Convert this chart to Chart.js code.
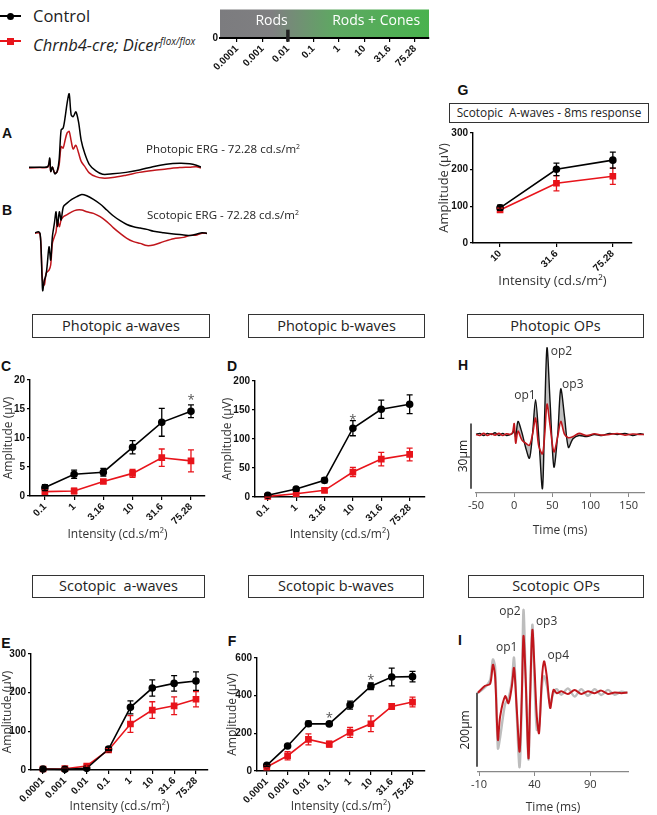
<!DOCTYPE html>
<html>
<head>
<meta charset="utf-8">
<script src="https://cdn.jsdelivr.net/npm/chart.js@4.4.1/dist/chart.umd.min.js"></script>
<style>
  body { margin: 0; width: 657px; height: 815px; position: relative; overflow: hidden; background: #fff;
         font-family: 'Open Sans', sans-serif; color: #222; }
  canvas, .abs { position: absolute; }
  .letter { position: absolute; width: 20px; text-align: center; font: bold 14px 'Liberation Sans', Arial, sans-serif;
            line-height: 16px; color: #111; }
  .ttl { position: absolute; box-sizing: border-box; border: 1.3px solid #333; text-align: center; font-size: 14.5px;
         white-space: nowrap; }
  .erg { position: absolute; font-size: 11.5px; line-height: 14px; white-space: nowrap; }
  .erg sup, .leg sup { font-size: 0.6em; vertical-align: 0.6em; }
  .leg { position: absolute; left: 33px; font-size: 16.5px; line-height: 20px; white-space: nowrap; }
</style>
</head>
<body>

<!-- legend -->
<div class="abs" style="left:0;top:15px;width:21px;height:2px;background:#000"></div>
<div class="abs" style="left:7px;top:12.5px;width:7px;height:7px;border-radius:50%;background:#000"></div>
<div class="leg" style="top:6px">Control</div>
<div class="abs" style="left:0;top:40px;width:21px;height:2px;background:#e8141b"></div>
<div class="abs" style="left:6.5px;top:37.5px;width:7px;height:7px;background:#e8141b"></div>
<div class="leg" style="top:31px;font-style:italic">Chrnb4-cre; Dicer<sup>flox/flox</sup></div>

<canvas id="cvScale" width="240" height="85" style="left:200px;top:0"></canvas>

<!-- A / B traces -->
<div class="letter" style="left:-3px;top:125px">A</div>
<div class="letter" style="left:-3px;top:202px">B</div>
<canvas id="cvA" width="172" height="100" style="left:29px;top:90px"></canvas>
<canvas id="cvB" width="172" height="105" style="left:35px;top:190px"></canvas>
<div class="erg" style="left:146px;top:140px">Photopic ERG - 72.28 cd.s/m<sup>2</sup></div>
<div class="erg" style="left:147px;top:206px">Scotopic ERG - 72.28 cd.s/m<sup>2</sup></div>

<!-- G -->
<div class="letter" style="left:453px;top:82px">G</div>
<div class="ttl" style="left:449px;top:103px;width:200px;height:20px;font-size:11.8px;line-height:17px">Scotopic&nbsp; A-waves - 8ms response</div>
<canvas id="cvG" width="232" height="165" style="left:425px;top:125px"></canvas>

<!-- row C D H -->
<div class="ttl" style="left:32px;top:314px;width:178px;height:24px;line-height:21px">Photopic a-waves</div>
<div class="ttl" style="left:248px;top:314px;width:177px;height:24px;line-height:21px">Photopic b-waves</div>
<div class="ttl" style="left:467px;top:314px;width:177px;height:24px;line-height:21px">Photopic OPs</div>
<div class="letter" style="left:-4px;top:358px">C</div>
<div class="letter" style="left:222px;top:358px">D</div>
<div class="letter" style="left:453px;top:357px">H</div>
<canvas id="cvC" width="215" height="175" style="left:0;top:370px"></canvas>
<canvas id="cvD" width="215" height="175" style="left:215px;top:370px"></canvas>
<canvas id="cvH" width="202" height="205" style="left:455px;top:335px"></canvas>

<!-- row E F I -->
<div class="ttl" style="left:32px;top:575px;width:173px;height:23px;line-height:20px">Scotopic&nbsp; a-waves</div>
<div class="ttl" style="left:248px;top:575px;width:176px;height:23px;line-height:20px">Scotopic b-waves</div>
<div class="ttl" style="left:468px;top:575px;width:176px;height:23px;line-height:20px">Scotopic OPs</div>
<div class="letter" style="left:-4px;top:635px">E</div>
<div class="letter" style="left:222px;top:633px">F</div>
<div class="letter" style="left:450px;top:632px">I</div>
<canvas id="cvE" width="215" height="170" style="left:0;top:645px"></canvas>
<canvas id="cvF" width="215" height="170" style="left:215px;top:645px"></canvas>
<canvas id="cvI" width="202" height="225" style="left:455px;top:590px"></canvas>

<script>
// ---------- data ----------
const RED = '#e8141b';
const TRACE_RED = '#c0161c';

const flashLabels = ['0.0001', '0.001', '0.01', '0.1', '1', '10', '31.6', '75.28'];
const photopicLabels = ['0.1', '1', '3.16', '10', '31.6', '75.28'];
const highLabels = ['10', '31.6', '75.28'];
const flashMarkAt = 2; // 0.01 cd.s/m2

// C - photopic a-waves (uV)
const photoACtrl = [1.45, 3.75, 4.1, 8.4, 12.7, 14.6];
const photoACtrlErr = [0.5, 0.7, 0.65, 1.15, 2.4, 1.1];
const photoAMut = [0.75, 0.86, 2.5, 3.9, 6.6, 6.05];
const photoAMutErr = [0.3, 0.5, 0.3, 0.7, 1.5, 1.9];

// D - photopic b-waves
const photoBCtrl = [2.9, 13.8, 28.7, 118.6, 151.3, 159.9];
const photoBCtrlErr = [1, 2, 4.3, 13, 15.8, 16.3];
const photoBMut = [1, 5.7, 11.5, 43, 65.3, 73.4];
const photoBMutErr = [1, 2, 3, 8, 11.5, 11];

// E - scotopic a-waves
const scotACtrl = [2.6, 1.7, 4.3, 54.3, 162, 212, 224, 230];
const scotACtrlErr = [1, 1, 2, 4, 17, 21, 20, 24];
const scotAMut = [2.6, 3.4, 10.3, 51.7, 119, 155, 166, 183];
const scotAMutErr = [1, 1, 3, 4, 21.5, 21.5, 23, 20];

// F - scotopic b-waves
const scotBCtrl = [30, 133, 251, 250, 350, 450, 499, 501];
const scotBCtrlErr = [5, 8, 14, 8, 21, 18, 47, 28];
const scotBMut = [21, 81, 168, 143, 205, 251, 343, 366];
const scotBMutErr = [5, 22, 29, 16, 26, 42, 15, 26];

// G - scotopic a-waves, 8 ms
const scot8Ctrl = [96, 201, 226];
const scot8CtrlErr = [7, 17, 22];
const scot8Mut = [90, 163, 182];
const scot8MutErr = [5, 21, 22];

// A - photopic ERG trace (ms, uV)
const aTime = [0, 16, 28, 31, 32.5, 35, 38.5, 42, 45, 48, 51, 54, 57, 60, 63, 66, 70, 74, 78, 83,
  90, 100, 110, 125, 145, 165, 185, 205, 225, 240, 250, 257];
const aCtrl = [0, 0, 1, 19, -9, 0, -14, -9, 15, 78, 82, 105, 135, 154, 110, 106, 116, 95, 56, 30,
  6, -8, -15, -14, -11, -6, 1, 6, 8, 7, 4, 0];
const aMut = [-2, -1, 0, 15, -9, 0, -12, -10, 5, 43, 40, 57, 72, 75, 55, 38, 46, 30, 12, 2,
  -12, -20, -23, -22, -17, -11, -7, -4, -1, 0, 1, -2];

// B - scotopic ERG trace
const bTime = [0, 5, 7.5, 9, 10.5, 11.5, 14, 16.5, 18.5, 21, 23.5, 26, 29, 31.5, 33.5, 36.5, 39, 42.5, 47.5, 55,
  62.5, 70, 77.5, 87.5, 97.5, 107.5, 117.5, 127.5, 137.5, 147.5, 157.5, 167.5, 177.5, 192.5, 207.5, 222.5, 232.5, 242.5, 250, 257.5];
const bCtrl = [0, 4, -3, -63, -198, -261, -213, -190, -138, -63, -123, -18, 42, 94, 27, 94, 57, 117, 132, 150,
  162, 172, 166, 150, 129, 102, 75, 54, 37, 27, 21, 15, 7, 0, -6, -10, -13, -6, 0, -3];
const bMut = [-3, 0, -6, -63, -183, -215, -235, -183, -175, -168, -145, -48, -18, 4, 57, 27, 57, 72, 80, 94,
  102, 102, 94, 87, 72, 50, 22, -3, -25, -40, -48, -58, -55, -40, -27, -21, -12, -10, -3, -3];

// H - photopic OPs
const hTime = [-50, -45, -40, -35, -30, -25, -20, -15, -10, -5, -2, 0, 2, 5, 10, 15, 20, 24, 28, 32,
  37, 40, 43, 47, 52, 57, 61, 66, 71, 77, 85, 95, 105, 115, 125, 135, 145, 155, 165, 170];
const hCtrl = [0, 0.5, -0.5, 0.5, 0, 0.8, -0.5, 0.5, -0.5, 0, 0.5, 2, -1, 6, 1, -6, -11, 0, 16, 0,
  -25, 10, 40, 15, -15, 0, 21, 8, -6, -2, -0.5, -1, 0, -0.5, 0.5, 0, 0.5, -0.5, 0.3, 0];
const hMut = [0, -0.5, 0.5, -0.5, 0.3, -0.3, 0.5, -0.5, 0.3, 0, 1, 5, -4, 1.5, -2.5, -4, -5, 0, 7.5, -5,
  -9, 0, 14, 4, -8, -1, 6, 0, -1.5, -1, 0.5, -0.5, 0.3, -0.3, 0, 0.4, -0.3, 0.2, 0, 0];
const hTicks = [-50, 0, 50, 100, 150];
const hPeaks = [{x: 14, y: 17.8, text: 'op1'}, {x: 61.8, y: 38.2, text: 'op2'}, {x: 76.8, y: 22.9, text: 'op3'}];

// I - scotopic OPs
const iTime = [-11, -4.5, 0, 2.5, 4.5, 7, 9, 13.5, 16.5, 19.5, 21.5, 24, 26.5, 28.5, 30, 32, 34.5, 36, 38, 40,
  42, 44, 46.5, 48.5, 51, 54, 57, 60, 64, 70, 76, 82, 88, 94, 100, 106, 112, 118, 123.5];
const iCtrl = [0, 15, 35, 90, 70, -150, -120, -30, -15, 30, 95, -60, -201, -20, 224, 40, -180, -10, 184, 20,
  -100, -90, 15, 45, 20, -30, 0, 10, -5, 12, -10, 10, -8, 10, -6, 8, -5, 3, 0];
const iMut = [0, 19, 24, 76, 44, -127, -64, -9, -28, 17, 67, -46, -159, -9, 154, 35, -177, -9, 170, 62,
  -64, -109, 35, 85, 44, -41, 8, -1, 4, -3, 8, -3, 4, -1, 6, -3, 1, -1, 1];
const iTicks = [-10, 40, 90];
const iPeaks = [{x: 14.9, y: 123, text: 'op1'}, {x: 17.9, y: 220, text: 'op2'}, {x: 50.8, y: 193, text: 'op3'}, {x: 61.3, y: 100, text: 'op4'}];

// ---------- plugins ----------
const errorBars = {
  id: 'errorBars',
  afterDatasetsDraw(chart) {
    const ctx = chart.ctx;
    const ys = chart.scales.y;
    for (let di = chart.data.datasets.length - 1; di >= 0; di--) {
      const ds = chart.data.datasets[di];
      if (!ds.errors) continue;
      const meta = chart.getDatasetMeta(di);
      ctx.save();
      ctx.strokeStyle = ds.borderColor;
      ctx.lineWidth = 1.3;
      meta.data.forEach((pt, i) => {
        const v = ds.data[i].y, e = ds.errors[i];
        const y1 = ys.getPixelForValue(v + e), y2 = ys.getPixelForValue(v - e);
        ctx.beginPath();
        ctx.moveTo(pt.x, y1); ctx.lineTo(pt.x, y2);
        ctx.moveTo(pt.x - 3, y1); ctx.lineTo(pt.x + 3, y1);
        ctx.moveTo(pt.x - 3, y2); ctx.lineTo(pt.x + 3, y2);
        ctx.stroke();
      });
      ctx.restore();
    }
  }
};

const starMarks = {
  id: 'starMarks',
  afterDraw(chart, args, opts) {
    if (!opts.marks) return;
    const {ctx, scales: {x, y}} = chart;
    ctx.save();
    ctx.fillStyle = '#555';
    ctx.font = '13px "Open Sans"';
    ctx.textAlign = 'center';
    ctx.textBaseline = 'middle';
    opts.marks.forEach(m => ctx.fillText('*', x.getPixelForValue(m[0]), y.getPixelForValue(m[1]) + 3));
    ctx.restore();
  }
};

const peakLabels = {
  id: 'peakLabels',
  afterDraw(chart, args, opts) {
    if (!opts.marks) return;
    const {ctx, scales: {x, y}} = chart;
    ctx.save();
    ctx.fillStyle = '#333';
    ctx.font = '12px "Open Sans"';
    ctx.textAlign = 'center';
    ctx.textBaseline = 'middle';
    opts.marks.forEach(m => ctx.fillText(m.text, x.getPixelForValue(m.x), y.getPixelForValue(m.y)));
    ctx.restore();
  }
};

const scaleBar = {
  id: 'scaleBar',
  afterDraw(chart, args, opts) {
    if (!opts.text) return;
    const {ctx, chartArea, scales: {y}} = chart;
    const bx = chartArea.left + opts.dx;
    const y1 = y.getPixelForValue(opts.from), y2 = y.getPixelForValue(opts.to);
    ctx.save();
    ctx.strokeStyle = '#222';
    ctx.lineWidth = 1.5;
    ctx.beginPath(); ctx.moveTo(bx, y1); ctx.lineTo(bx, y2); ctx.stroke();
    ctx.translate(chartArea.left + opts.tx, (y1 + y2) / 2);
    ctx.rotate(-Math.PI / 2);
    ctx.fillStyle = '#222';
    ctx.font = '12px "Open Sans"';
    ctx.textAlign = 'center';
    ctx.textBaseline = 'middle';
    ctx.fillText(opts.text, 0, 0);
    ctx.restore();
  }
};

const bandFill = {
  id: 'bandFill',
  beforeDraw(chart, args, opts) {
    if (!opts.labels) return;
    const {ctx, chartArea: a} = chart;
    const g = ctx.createLinearGradient(a.left, 0, a.right, 0);
    g.addColorStop(0, '#7c7c7f');
    g.addColorStop(0.25, '#7f7f81');
    g.addColorStop(0.55, '#5ea862');
    g.addColorStop(1, '#49b24e');
    ctx.save();
    ctx.fillStyle = g;
    ctx.fillRect(a.left, a.top, a.right - a.left, a.bottom - a.top);
    ctx.restore();
  },
  afterDatasetsDraw(chart, args, opts) {
    if (!opts.labels) return;
    const {ctx, scales: {x, y}} = chart;
    ctx.save();
    ctx.fillStyle = '#fff';
    ctx.font = '14px "Open Sans"';
    ctx.textAlign = 'center';
    ctx.textBaseline = 'middle';
    opts.labels.forEach(l => ctx.fillText(l.text, x.getPixelForValue(l.x), y.getPixelForValue(l.y)));
    ctx.restore();
  }
};

Chart.register(errorBars, starMarks, peakLabels, scaleBar, bandFill);

const TICK_FONT = {family: "'Liberation Sans', Arial", weight: 'bold', size: 10};

function pts(xs, ys) {
  return ys.map((v, i) => ({x: xs[i], y: v}));
}

function ampChart(id, labels, ctrl, ctrlErr, mut, mutErr, o) {
  const idx = labels.map((_, i) => i);
  const yTicks = [];
  for (let v = 0; v <= o.ymax; v += o.ystep) yTicks.push(v);
  return new Chart(document.getElementById(id), {
    type: 'line',
    data: {
      datasets: [
        {data: pts(idx, ctrl), errors: ctrlErr, borderColor: '#000', backgroundColor: '#000',
         pointStyle: 'circle', pointRadius: 3, borderWidth: 1.6, clip: false},
        {data: pts(idx, mut), errors: mutErr, borderColor: RED, backgroundColor: RED,
         pointStyle: 'rect', pointRadius: 3.6, borderWidth: 1.6, clip: false}
      ]
    },
    options: {
      responsive: false,
      animation: false,
      layout: {padding: o.pad},
      plugins: {legend: {display: false}, tooltip: {enabled: false}, starMarks: {marks: o.stars}},
      scales: {
        x: {
          type: 'linear', min: o.xmin, max: o.xmax,
          afterBuildTicks: s => { s.ticks = idx.map(i => ({value: i})); },
          afterFit: s => { s.height = o.xH; },
          ticks: {autoSkip: false, minRotation: 45, maxRotation: 45, padding: 1, color: '#111',
                  font: TICK_FONT, callback: v => labels[v]},
          grid: {drawOnChartArea: false, color: '#000', tickLength: 4, lineWidth: 1.2},
          border: {color: '#000', width: 1.4},
          title: {display: true, text: 'Intensity (cd.s/m²)', color: '#333',
                  font: {family: "'Open Sans'", size: o.titleSize || 12},
                  padding: {top: 0, bottom: o.xtPad}}
        },
        y: {
          min: 0, max: o.ymax,
          afterBuildTicks: s => { s.ticks = yTicks.map(v => ({value: v})); },
          afterFit: s => { s.width = o.yW; },
          ticks: {padding: 2, color: '#111', font: TICK_FONT},
          grid: {drawOnChartArea: false, color: '#000', tickLength: 3, lineWidth: 1.2},
          border: {color: '#000', width: 1.4},
          title: {display: true, text: 'Amplitude (µV)', color: '#333',
                  font: {family: "'Open Sans'", size: o.titleSize || 12},
                  padding: {top: o.ytPad, bottom: 0}}
        }
      }
    }
  });
}

function traceChart(id, t, series, o) {
  return new Chart(document.getElementById(id), {
    type: 'line',
    data: {
      datasets: series.map(s => ({
        data: pts(t, s.values), borderColor: s.color, borderWidth: s.width, pointRadius: 0,
        tension: 0.3, fill: s.fill === undefined ? false : s.fill, backgroundColor: s.fillColor || 'transparent', clip: false
      }))
    },
    options: {
      responsive: false,
      animation: false,
      layout: {padding: o.pad},
      plugins: {legend: {display: false}, tooltip: {enabled: false},
                peakLabels: {marks: o.peaks}, scaleBar: o.bar || {}},
      scales: {
        x: o.ticks ? {
          type: 'linear', min: o.xmin, max: o.xmax,
          afterBuildTicks: s => { s.ticks = o.ticks.map(v => ({value: v})); },
          afterFit: s => { s.height = o.xH; },
          ticks: {autoSkip: false, maxRotation: 0, padding: 2, color: '#333', font: {family: "'Open Sans'", size: 11}},
          grid: {drawOnChartArea: false, color: '#888', tickLength: 4},
          border: {color: '#888', width: 1.2},
          title: {display: true, text: 'Time (ms)', color: '#333', font: {family: "'Open Sans'", size: 12},
                  padding: {top: 0, bottom: o.xtPad}}
        } : {type: 'linear', display: false, min: o.xmin, max: o.xmax},
        y: {display: false, min: o.ymin, max: o.ymax}
      }
    }
  });
}

// ---------- flash intensity strip ----------
new Chart(document.getElementById('cvScale'), {
  type: 'scatter',
  data: {datasets: [{data: [{x: flashMarkAt, y: 0.08}], pointStyle: 'line', pointRotation: 90, pointRadius: 6,
                     pointBorderWidth: 3.5, borderColor: '#222', backgroundColor: '#222', clip: false}]},
  options: {
    responsive: false,
    animation: false,
    layout: {padding: {left: 0, top: 0, right: 11, bottom: 0}},
    plugins: {legend: {display: false}, tooltip: {enabled: false},
              bandFill: {labels: [{x: 1.36, y: 0.58, text: 'Rods'}, {x: 5.47, y: 0.58, text: 'Rods + Cones'}]}},
    scales: {
      x: {
        type: 'linear', min: -0.67, max: 7.55,
        afterBuildTicks: s => { s.ticks = flashLabels.map((_, i) => ({value: i})); },
        afterFit: s => { s.height = 47; },
        ticks: {autoSkip: false, minRotation: 45, maxRotation: 45, padding: 1, color: '#111',
                font: TICK_FONT, callback: v => flashLabels[v]},
        grid: {drawOnChartArea: false, color: '#000', tickLength: 4, lineWidth: 1.2},
        border: {color: '#000', width: 2}
      },
      y: {
        min: 0, max: 1,
        afterBuildTicks: s => { s.ticks = [{value: 0}]; },
        afterFit: s => { s.width = 20; },
        ticks: {padding: 2, color: '#111', font: TICK_FONT},
        grid: {display: false, drawTicks: false},
        border: {display: false}
      }
    }
  }
});

// ---------- A / B ERG traces ----------
traceChart('cvA', aTime, [
  {values: aCtrl, color: '#000', width: 1.5},
  {values: aMut, color: TRACE_RED, width: 1.5}
], {xmin: 0, xmax: 257, ymin: -48, ymax: 162, pad: 0});

traceChart('cvB', bTime, [
  {values: bCtrl, color: '#000', width: 1.5},
  {values: bMut, color: TRACE_RED, width: 1.5}
], {xmin: 0, xmax: 257.5, ymin: -280, ymax: 192, pad: 0});

// ---------- amplitude charts ----------
ampChart('cvG', highLabels, scot8Ctrl, scot8CtrlErr, scot8Mut, scot8MutErr,
  {xmin: -0.48, xmax: 2.34, ymax: 300, ystep: 100, yW: 48, xH: 47, xtPad: 1, ytPad: 11, titleSize: 13,
   pad: {left: 0, top: 7, right: 25, bottom: 0}});

ampChart('cvC', photopicLabels, photoACtrl, photoACtrlErr, photoAMut, photoAMutErr,
  {xmin: -0.51, xmax: 5.48, ymax: 20, ystep: 5, yW: 30, xH: 49, xtPad: 3, ytPad: 1,
   stars: [[5, 17]], pad: {left: 0, top: 10, right: 10, bottom: 0}});

ampChart('cvD', photopicLabels, photoBCtrl, photoBCtrlErr, photoBMut, photoBMutErr,
  {xmin: -0.45, xmax: 5.52, ymax: 200, ystep: 50, yW: 40, xH: 48, xtPad: 3, ytPad: 5,
   stars: [[3, 138]], pad: {left: 0, top: 11, right: 2, bottom: 0}});

ampChart('cvE', flashLabels, scotACtrl, scotACtrlErr, scotAMut, scotAMutErr,
  {xmin: -0.55, xmax: 7.55, ymax: 300, ystep: 100, yW: 31, xH: 45, xtPad: 1, ytPad: 0,
   pad: {left: 0, top: 9, right: 7, bottom: 0}});

ampChart('cvF', flashLabels, scotBCtrl, scotBCtrlErr, scotBMut, scotBMutErr,
  {xmin: -0.47, xmax: 7.57, ymax: 600, ystep: 200, yW: 42, xH: 44, xtPad: 1, ytPad: 10,
   stars: [[3, 295], [5, 499]], pad: {left: 0, top: 13, right: 3, bottom: 0}});

// ---------- oscillatory potentials ----------
traceChart('cvH', hTime, [
  {values: hMut, color: TRACE_RED, width: 1.6},
  {values: hCtrl, color: '#111', width: 1.4, fill: 0, fillColor: 'rgba(150,150,150,0.6)'}
], {xmin: -50, xmax: 170, ymin: -27, ymax: 44, ticks: hTicks, xH: 47, xtPad: 2,
    pad: {left: 21, top: 4, right: 13, bottom: 0}, peaks: hPeaks,
    bar: {from: 5, to: -25, dx: -5, tx: -12, text: '30µm'}});

traceChart('cvI', iTime, [
  {values: iMut, color: TRACE_RED, width: 2},
  {values: iCtrl, color: '#bdbdbd', width: 2.4}
], {xmin: -10.9, xmax: 124, ymin: -214, ymax: 251, ticks: iTicks, xH: 43, xtPad: 0,
    pad: {left: 23, top: 10, right: 29, bottom: 0}, peaks: iPeaks,
    bar: {from: 0, to: -200, dx: -1, tx: -12, text: '200µm'}});
</script>
</body>
</html>
